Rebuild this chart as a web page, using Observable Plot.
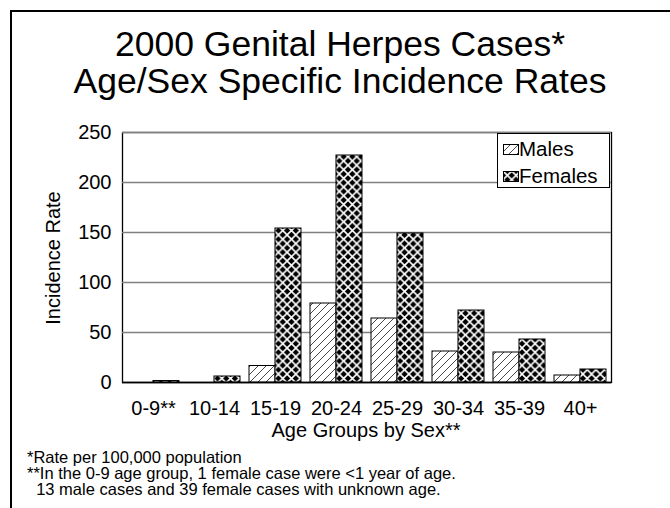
<!DOCTYPE html>
<html><head><meta charset="utf-8">
<script src="https://cdn.jsdelivr.net/npm/d3@7"></script>
<script src="https://cdn.jsdelivr.net/npm/@observablehq/plot@0.6"></script>
<style>
html,body{margin:0;padding:0;background:#fff;}
body{width:670px;height:508px;position:relative;overflow:hidden;font-family:"Liberation Sans",Arial,sans-serif;color:#000;}
#border{position:absolute;left:10px;top:10px;width:700px;height:600px;border-left:2px solid #000;border-top:2px solid #000;}
#title{position:absolute;left:10px;top:26px;width:660px;text-align:center;font-size:35.5px;line-height:37px;}
#chart{position:absolute;left:0;top:0;}
#ylab{position:absolute;left:53px;top:258px;transform:translate(-50%,-50%) rotate(-90deg);font-size:20px;white-space:nowrap;}
#xlab{position:absolute;left:366px;top:430px;transform:translate(-50%,-50%);font-size:20px;white-space:nowrap;}
#notes{position:absolute;left:27px;top:449px;font-size:16.5px;line-height:16px;white-space:pre;}
#legend{position:absolute;left:497px;top:133px;width:111px;height:53px;border:1px solid #000;background:#fff;font-size:20.5px;}
.item{position:absolute;left:5px;display:flex;align-items:center;height:24px;}
.item svg{margin-right:0px;}
</style></head>
<body>
<div id="border"></div>
<div id="chart"></div>
<div id="title">2000 Genital Herpes Cases*<br>Age/Sex Specific Incidence Rates</div>
<div id="ylab">Incidence Rate</div>
<div id="xlab">Age Groups by Sex**</div>
<div id="notes"></div>
<div id="legend"></div>
<script>
const groups = ["0-9**","10-14","15-19","20-24","25-29","30-34","35-39","40+"];
const series = ["Males","Females"];
const males = [0, 0, 16.5, 79, 64, 31, 30, 7];
const females = [1.5, 6, 154, 227, 149, 72, 43, 13];
const yTicks = [0, 50, 100, 150, 200, 250];
const footnotes = [
  "*Rate per 100,000 population",
  "**In the 0-9 age group, 1 female case were <1 year of age.",
  "  13 male cases and 39 female cases with unknown age."
];
const patterns = {Males: "url(#hatchM)", Females: "url(#crossF)"};

const W = 670, H = 508, mL = 122, mR = 59, mT = 132, mB = 126;
const pIn = 0.15, pOut = 0.075;
const step = (W - mL - mR) / (groups.length - pIn + 2 * pOut);
const half = step * (1 - pIn) / 2;

const maleRows = groups.map((g, i) => ({group: g, value: males[i]}));
const femaleRows = groups.map((g, i) => ({group: g, value: females[i]}));

const chart = Plot.plot({
  width: W, height: H,
  marginLeft: mL, marginRight: mR, marginTop: mT, marginBottom: mB,
  style: {fontFamily: "'Liberation Sans', Arial, sans-serif", fontSize: "20px", color: "#000", background: "transparent"},
  x: {domain: groups, paddingInner: pIn, paddingOuter: pOut, label: null},
  y: {domain: [0, 250], label: null},
  marks: [
    Plot.frame({stroke: "#000", strokeWidth: 1.3}),
    Plot.ruleY(yTicks, {stroke: "#808080", strokeWidth: 1.4}),
    Plot.barY(maleRows, {x: "group", y: "value", insetRight: half, fill: patterns.Males, stroke: "#000", strokeWidth: 1}),
    Plot.barY(femaleRows, {x: "group", y: "value", insetLeft: half, fill: patterns.Females, stroke: "#000", strokeWidth: 1}),
    Plot.ruleY([0], {stroke: "#000", strokeWidth: 1.5}),
    Plot.axisY({ticks: yTicks, tickSize: 0, tickPadding: 11, label: null}),
    Plot.axisX({tickSize: 0, tickPadding: 18, label: null})
  ]
});
document.getElementById("chart").appendChild(chart);

const defsHTML = `
<pattern id="hatchM" patternUnits="userSpaceOnUse" width="8" height="8">
  <rect width="8" height="8" fill="#fff"/>
  <path d="M-1,1 L1,-1 M0,8 L8,0 M7,9 L9,7" stroke="#333" stroke-width="0.9"/>
</pattern>
<pattern id="crossF" patternUnits="userSpaceOnUse" width="8.7" height="8.7">
  <rect width="8.7" height="8.7" fill="#000"/>
  <path d="M0,0 L8.7,8.7 M8.7,0 L0,8.7" stroke="#fff" stroke-width="1.6"/>
</pattern>`;
const defs = d3.select(chart).insert("defs", ":first-child");
defs.html(defsHTML);

document.getElementById("notes").textContent = footnotes.join("\n");

const legend = d3.select("#legend");
series.forEach((s, i) => {
  const it = legend.append("div").attr("class", "item").style("top", (3 + i * 27) + "px");
  const sw = it.append("svg").attr("width", 16).attr("height", 11);
  sw.append("rect").attr("x", 0.5).attr("y", 0.5).attr("width", 15).attr("height", 10)
    .attr("fill", patterns[s]).attr("stroke", "#000");
  it.append("span").text(s);
});
</script>
</body></html>
